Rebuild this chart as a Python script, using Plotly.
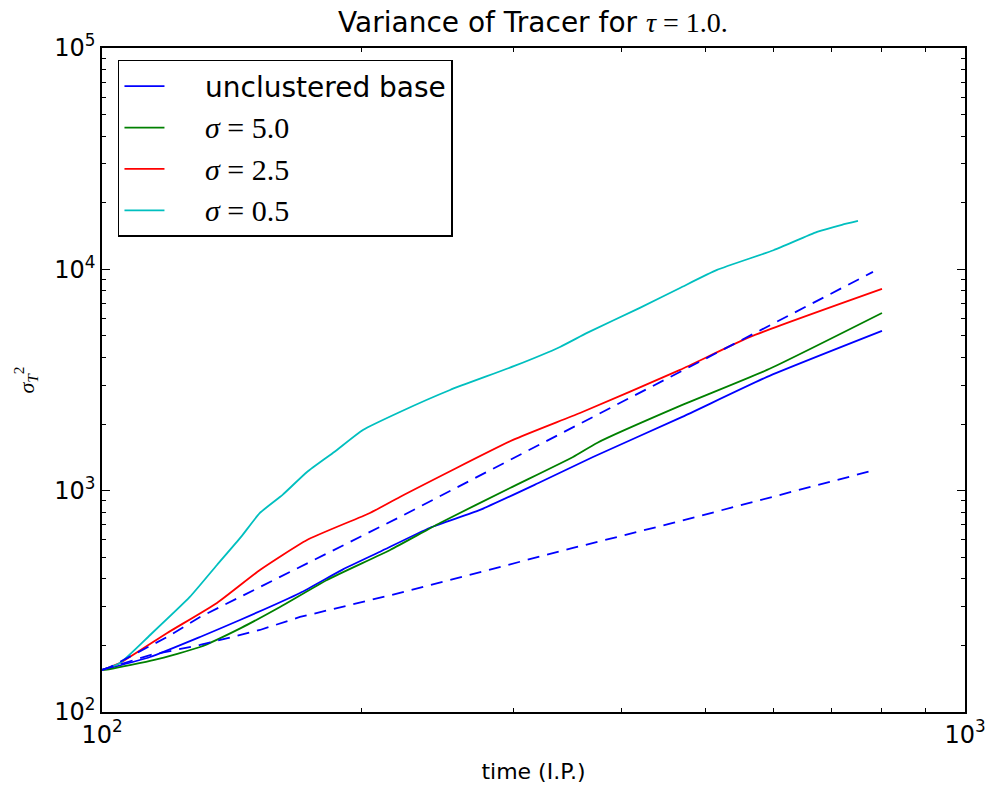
import plotly.graph_objects as go

# ---- data ----
base_t = [100, 102.2, 113.7, 129.9, 144.5, 169.6, 190.0, 210.0, 240.0, 274.2, 320.0, 370.6, 467.5, 589.7, 801.3]
base_v = [154.8, 158.1, 177.2, 218.3, 260.4, 345.0, 440.0, 530.0, 680.0, 818.4, 1080, 1420, 2131, 3265, 5268]

s50_t = [100, 102.2, 115.0, 129.9, 145.0, 160.8, 182.3, 215.7, 246.4, 297.0, 351.4, 374.6, 467.5, 589.7, 801.3]
s50_v = [154.8, 156.4, 172.0, 196.6, 240.0, 298.2, 395.0, 539.5, 714.5, 1028, 1420, 1643, 2414, 3511, 6353]

s25_t = [100, 104.9, 119.0, 135.9, 152.4, 172.8, 204.4, 221.4, 299.4, 358.0, 467.5, 563.6, 801.3]
s25_v = [154.8, 166.5, 227.5, 310.9, 438.2, 598.8, 793.2, 936.5, 1695, 2244, 3511, 4949, 8154]

s05_t = [100, 104.9, 113.7, 126.4, 135.9, 145.0, 152.4, 162.0, 172.8, 186.0, 200.6, 221.4, 253.1, 300.0, 339.4, 364.8, 420.0, 467.5, 516.0, 600.0, 673.9, 720.0, 751.6]
s05_v = [154.8, 166.5, 222.8, 331.0, 461.6, 620.0, 793.2, 960.0, 1215, 1500, 1881, 2268, 2851, 3650, 4460, 5160, 6700, 8240, 9938, 12200, 14757, 15900, 16550]

ref_hi_t = [100, 102.2, 119.0, 129.9, 221.4, 467.5, 782.3]
ref_hi_v = [154.8, 159.7, 218.3, 268.7, 760.5, 3440, 9734]

ref_lo_t = [100, 113.7, 129.9, 152.4, 169.6, 221.4, 351.4, 458.8, 786.5]
ref_lo_v = [154.8, 180.9, 200.8, 234.7, 268.7, 345.0, 551.0, 714.5, 1240]

x_tick_vals = [100, 1000]
x_tick_text = ["10<sup>2</sup>", "10<sup>3</sup>"]
y_tick_vals = [100, 1000, 10000, 100000]
y_tick_text = ["10<sup>2</sup>", "10<sup>3</sup>", "10<sup>4</sup>", "10<sup>5</sup>"]

SERIF = "Liberation Serif"
PAD = "\u00a0\u00a0\u00a0\u00a0"
NB = "\u00a0"


def sig(val):
    return (PAD + f"<span style='font-family:{SERIF}; font-size:30px'>"
            f"<i>σ</i>{NB}={NB}{val}</span>")


names = [PAD + "unclustered base", sig("5.0"), sig("2.5"), sig("0.5")]
colors = ["#0000ff", "#008000", "#ff0000", "#00bfbf"]

fig = go.Figure()
for i, (t, v) in enumerate([(base_t, base_v), (s50_t, s50_v), (s25_t, s25_v), (s05_t, s05_v)]):
    fig.add_trace(go.Scatter(x=t, y=v, mode="lines", name=names[i],
                             line=dict(color=colors[i], width=1.8, shape="spline", smoothing=0.5),
                             legendgroup=f"g{i}"))
for t, v in [(ref_hi_t, ref_hi_v), (ref_lo_t, ref_lo_v)]:
    fig.add_trace(go.Scatter(x=t, y=v, mode="lines", showlegend=False,
                             line=dict(color="#0000ff", width=1.8, dash="12px,8px")))

axis_common = dict(
    type="log", showgrid=False, zeroline=False, automargin=False,
    showline=True, linecolor="black", linewidth=1.5, mirror="allticks",
    ticks="inside", ticklen=8, tickwidth=1, tickcolor="black",
    tickfont=dict(family="DejaVu Sans", size=24, color="black"),
    minor=dict(ticks="inside", ticklen=4, tickwidth=1, tickcolor="black",
               dtick="D1", showgrid=False),
)

fig.update_layout(
    width=986, height=785,
    margin=dict(l=102, r=21, t=48, b=73),
    paper_bgcolor="white", plot_bgcolor="white",
    title=dict(
        text=f"Variance of Tracer for <span style='font-family:{SERIF}'><i>τ</i> = 1.0.</span>",
        x=0.5405, xanchor="center", y=0.972, yanchor="middle",
        font=dict(family="DejaVu Sans", size=28, color="black"),
    ),
    xaxis=dict(axis_common, range=[2, 3], tickmode="array",
               tickvals=x_tick_vals, ticktext=x_tick_text,
               title=dict(text="time (I.P.)", standoff=16,
                          font=dict(family="DejaVu Sans", size=22, color="black"))),
    yaxis=dict(axis_common, range=[2, 5], tickmode="array",
               tickvals=y_tick_vals, ticktext=y_tick_text,
               title=dict(text=f"<span style='font-family:{SERIF}'><i>σ</i><sub><i>T</i></sub><sup>2</sup></span>",
                          standoff=14,
                          font=dict(family=SERIF, size=22, color="black"))),
    legend=dict(
        x=0.0185, y=0.982, xanchor="left", yanchor="top",
        bgcolor="white", bordercolor="black", borderwidth=1.5,
        font=dict(family="DejaVu Sans", size=28, color="black"),
        traceorder="grouped", tracegroupgap=2, itemwidth=40,
    ),
)

fig.write_html("out.html", config={"displayModeBar": False},
               post_script="document.body.style.margin='0';")
